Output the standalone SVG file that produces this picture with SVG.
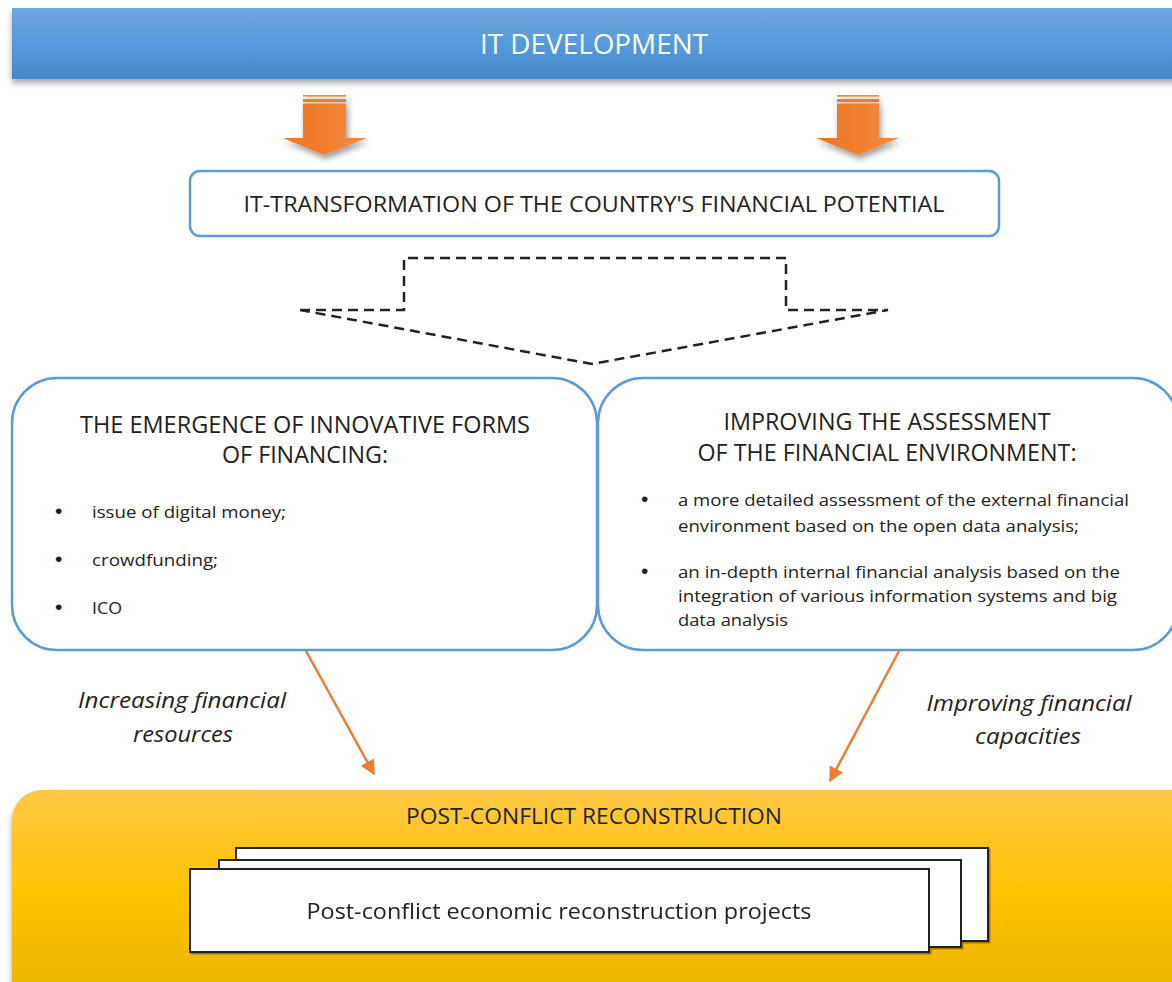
<svg xmlns="http://www.w3.org/2000/svg" width="1172" height="982" viewBox="0 0 1172 982">
<defs>
<style>
text{font-family:"Open Sans","Noto Sans","Liberation Sans",sans-serif;fill:#222}
.t{font-size:23px}
.b{font-size:17px}
.dot{font-size:21px;font-family:"Liberation Sans",sans-serif}
.i{font-size:22px;font-style:italic}
.box{fill:#fff;stroke:#5b9bd5;stroke-width:2.5}
.dash{fill:none;stroke:#222;stroke-width:2.5;stroke-dasharray:10 6}
.conn{fill:none;stroke:#ed7d31;stroke-width:2.5}
.page{fill:#fff;stroke:#222;stroke-width:2}
</style>
<linearGradient id="blue" x1="0" y1="0" x2="0" y2="1">
<stop offset="0" stop-color="#70a7dd"/>
<stop offset="0.5" stop-color="#569ade"/>
<stop offset="1" stop-color="#4588c8"/>
</linearGradient>
<linearGradient id="orange" x1="0" y1="0" x2="1" y2="0">
<stop offset="0" stop-color="#ee7422"/>
<stop offset="1" stop-color="#f48b3e"/>
</linearGradient>
<linearGradient id="yellow" x1="0" y1="0" x2="0" y2="1">
<stop offset="0" stop-color="#ffc845"/>
<stop offset="0.45" stop-color="#ffc300"/>
<stop offset="1" stop-color="#e5b300"/>
</linearGradient>
<filter id="sh" x="-5%" y="-20%" width="110%" height="150%">
<feDropShadow dx="0" dy="4" stdDeviation="3" flood-color="#000" flood-opacity="0.35"/>
</filter>
<filter id="sh2" x="-20%" y="-20%" width="140%" height="150%">
<feDropShadow dx="2" dy="4" stdDeviation="3" flood-color="#000" flood-opacity="0.4"/>
</filter>
<filter id="sh3" x="-5%" y="-5%" width="110%" height="110%">
<feDropShadow dx="1.5" dy="1.5" stdDeviation="0.6" flood-color="#000" flood-opacity="0.35"/>
</filter>
<marker id="ah" viewBox="0 0 10 10" refX="9" refY="5" markerWidth="7" markerHeight="6" markerUnits="strokeWidth" orient="auto">
<path d="M0,0 L10,5 L0,10 z" fill="#ed7d31"/>
</marker>
</defs>

<g id="it-development">
<rect x="12" y="8" width="1172" height="71" fill="url(#blue)" filter="url(#sh)"/>
<text x="594" y="54" text-anchor="middle" font-size="28" style="fill:#fff" textLength="228" lengthAdjust="spacingAndGlyphs">IT DEVELOPMENT</text>
</g>

<g id="arrow-left" filter="url(#sh2)">
<rect x="303" y="95" width="43" height="1.7" fill="#f28a40"/>
<rect x="303" y="99" width="43" height="3" fill="#f07a2a"/>
<path d="M303,103.5 H346 V138 H367 L324,155 L283,138 H303 Z" fill="url(#orange)"/>
</g>
<g id="arrow-right" filter="url(#sh2)">
<rect x="837" y="95" width="42" height="1.7" fill="#f28a40"/>
<rect x="837" y="99" width="42" height="3" fill="#f07a2a"/>
<path d="M837,103.5 H879 V138 H899 L858,155 L816,138 H837 Z" fill="url(#orange)"/>
</g>

<g id="it-transformation">
<rect x="190" y="171" width="809" height="65" rx="10" class="box"/>
<text x="594" y="212" text-anchor="middle" font-size="21" textLength="701" lengthAdjust="spacingAndGlyphs">IT-TRANSFORMATION OF THE COUNTRY'S FINANCIAL POTENTIAL</text>
</g>

<g id="split-arrow">
<path class="dash" d="M300,310 H404 V258 H786 V310 H888 L592,364 L300,310"/>
</g>

<g id="innovative-forms">
<rect x="12" y="378" width="585" height="272" rx="45" class="box"/>
<text x="305" y="433" text-anchor="middle" class="t" textLength="450" lengthAdjust="spacingAndGlyphs">THE EMERGENCE OF INNOVATIVE FORMS</text>
<text x="305" y="463" text-anchor="middle" class="t" textLength="166" lengthAdjust="spacingAndGlyphs">OF FINANCING:</text>
<text x="55" y="518" class="dot">•</text>
<text x="92" y="518" class="b" textLength="194" lengthAdjust="spacingAndGlyphs">issue of digital money;</text>
<text x="55" y="566" class="dot">•</text>
<text x="92" y="566" class="b" textLength="126" lengthAdjust="spacingAndGlyphs">crowdfunding;</text>
<text x="55" y="614" class="dot">•</text>
<text x="92" y="614" class="b" textLength="30" lengthAdjust="spacingAndGlyphs">ICO</text>
</g>

<g id="assessment">
<rect x="598" y="378" width="580" height="272" rx="45" class="box"/>
<text x="887" y="430" text-anchor="middle" class="t" textLength="327" lengthAdjust="spacingAndGlyphs">IMPROVING THE ASSESSMENT</text>
<text x="887" y="461" text-anchor="middle" class="t" textLength="379" lengthAdjust="spacingAndGlyphs">OF THE FINANCIAL ENVIRONMENT:</text>
<text x="641" y="506" class="dot">•</text>
<text x="678" y="506" class="b" textLength="451" lengthAdjust="spacingAndGlyphs">a more detailed assessment of the external financial</text>
<text x="678" y="532" class="b" textLength="401" lengthAdjust="spacingAndGlyphs">environment based on the open data analysis;</text>
<text x="641" y="578" class="dot">•</text>
<text x="678" y="578" class="b" textLength="442" lengthAdjust="spacingAndGlyphs">an in-depth internal financial analysis based on the</text>
<text x="678" y="602" class="b" textLength="439" lengthAdjust="spacingAndGlyphs">integration of various information systems and big</text>
<text x="678" y="626" class="b" textLength="110" lengthAdjust="spacingAndGlyphs">data analysis</text>
</g>

<g id="connectors">
<line x1="306" y1="651" x2="374" y2="774" class="conn" marker-end="url(#ah)"/>
<line x1="899" y1="651" x2="830" y2="781" class="conn" marker-end="url(#ah)"/>
<text x="182" y="708" text-anchor="middle" class="i" textLength="208" lengthAdjust="spacingAndGlyphs">Increasing financial</text>
<text x="183" y="742" text-anchor="middle" class="i" textLength="100" lengthAdjust="spacingAndGlyphs">resources</text>
<text x="1029" y="711" text-anchor="middle" class="i" textLength="205" lengthAdjust="spacingAndGlyphs">Improving financial</text>
<text x="1028" y="744" text-anchor="middle" class="i" textLength="106" lengthAdjust="spacingAndGlyphs">capacities</text>
</g>

<g id="post-conflict">
<rect x="12" y="790" width="1190" height="230" rx="30" fill="url(#yellow)" filter="url(#sh)"/>
<text x="594" y="824" text-anchor="middle" font-size="21" textLength="376" lengthAdjust="spacingAndGlyphs">POST-CONFLICT RECONSTRUCTION</text>
</g>

<g id="projects" filter="url(#sh3)">
<rect x="236" y="848" width="752" height="93" class="page"/>
<rect x="219" y="860" width="742" height="87" class="page"/>
<rect x="190" y="869" width="739" height="83" class="page"/>
<text x="559" y="919" text-anchor="middle" font-size="21" textLength="505" lengthAdjust="spacingAndGlyphs">Post-conflict economic reconstruction projects</text>
</g>
</svg>
